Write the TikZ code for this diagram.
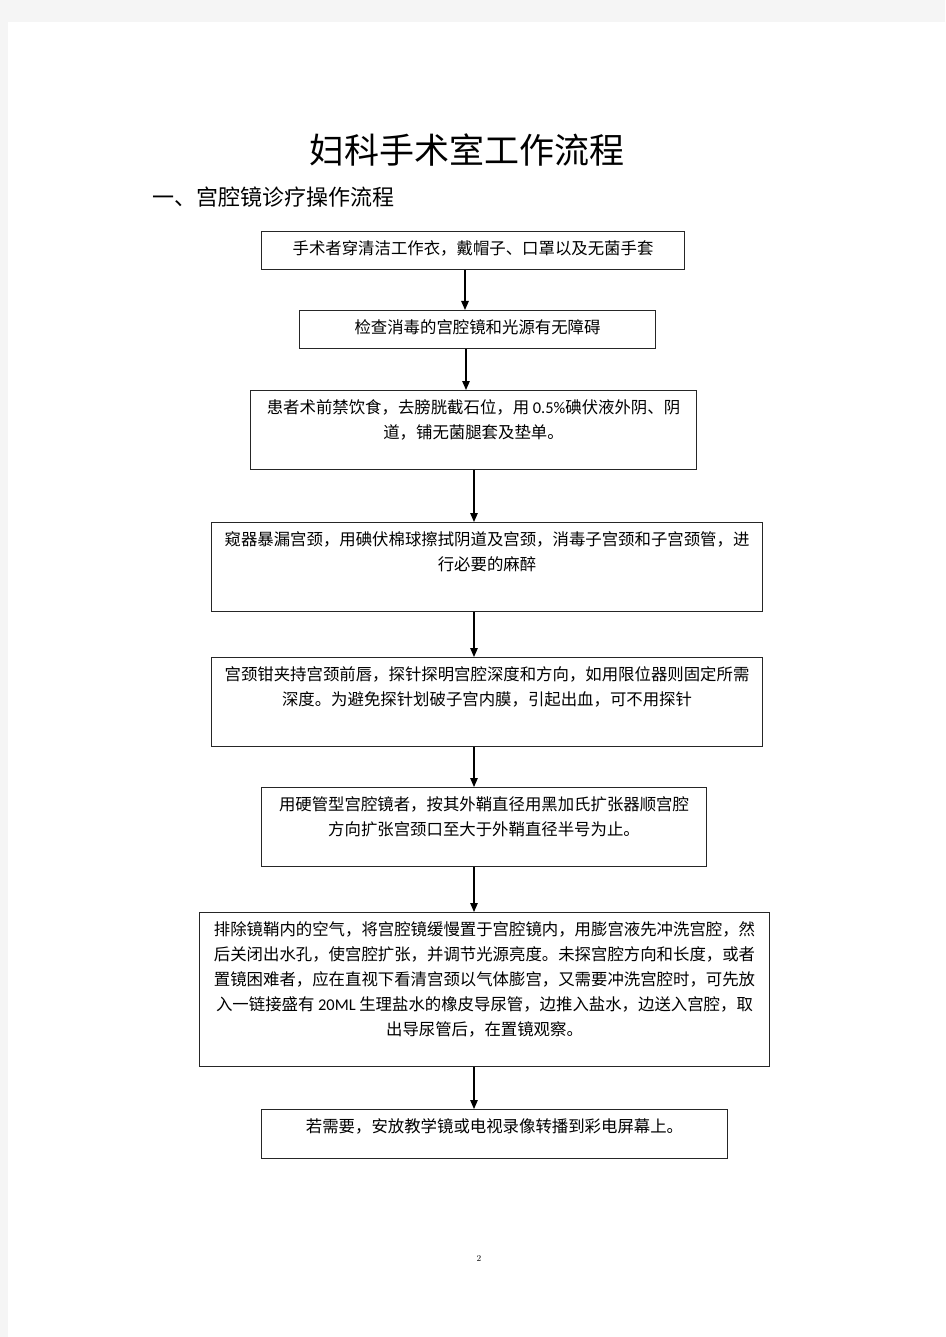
\documentclass[tikz,border=0pt]{standalone}
\usepackage{fontspec}
\usetikzlibrary{positioning,arrows.meta}
\newfontfamily\cjk{Noto Sans CJK SC}
\newfontfamily\lat{Carlito}

\tikzset{
  box/.style={draw=black!85,line width=1pt,anchor=north west,inner sep=0pt},
  txt/.style={font=\cjk\fontsize{16.4}{25}\selectfont,align=center,inner sep=0pt},
  flow/.style={-{Triangle[length=9pt,width=7.5pt]},line width=1.2pt},
}

\begin{document}
\begin{tikzpicture}[x=1pt,y=-1pt] %flow chart with 8 steps
  \fill[black!4] (0,0) rectangle (945,1337);
  \fill[white] (8,22) rectangle (945,1337);
  \useasboundingbox (0,0) rectangle (945,1337);
  \node[font=\cjk\fontsize{35}{40}\selectfont] (title) at (467,150) {妇科手术室工作流程};
  \node[font=\cjk\fontsize{22}{26}\selectfont,anchor=west,inner sep=0pt] (sub) at (152,197) {一、宫腔镜诊疗操作流程};
  % boxes
  \node[box,minimum width=423pt,minimum height=38pt] (b1) at (261,231) {};
  \node[box,minimum width=356pt,minimum height=38pt] (b2) at (299,310) {};
  \node[box,minimum width=446pt,minimum height=79pt] (b3) at (250,390) {};
  \node[box,minimum width=551pt,minimum height=89pt] (b4) at (211,522) {};
  \node[box,minimum width=551pt,minimum height=89pt] (b5) at (211,657) {};
  \node[box,minimum width=445pt,minimum height=79pt] (b6) at (261,787) {};
  \node[box,minimum width=570pt,minimum height=154pt] (b7) at (199,912) {};
  \node[box,minimum width=466pt,minimum height=49pt] (b8) at (261,1109) {};
  % texts
  \node[txt,below=9pt of b1.north] (t1) {手术者穿清洁工作衣，戴帽子、口罩以及无菌手套};
  \node[txt,below=9pt of b2.north] (t2) {检查消毒的宫腔镜和光源有无障碍};
  \node[txt,below=9pt of b3.north] (t3) {患者术前禁饮食，去膀胱截石位，用 {\lat 0.5\%}碘伏液外阴、阴\\道，铺无菌腿套及垫单。};
  \node[txt,below=9pt of b4.north] (t4) {窥器暴漏宫颈，用碘伏棉球擦拭阴道及宫颈，消毒子宫颈和子宫颈管，进\\行必要的麻醉};
  \node[txt,below=9pt of b5.north] (t5) {宫颈钳夹持宫颈前唇，探针探明宫腔深度和方向，如用限位器则固定所需\\深度。为避免探针划破子宫内膜，引起出血，可不用探针};
  \node[txt,below=9pt of b6.north] (t6) {用硬管型宫腔镜者，按其外鞘直径用黑加氏扩张器顺宫腔\\方向扩张宫颈口至大于外鞘直径半号为止。};
  \node[txt,below=9pt of b7.north] (t7) {排除镜鞘内的空气，将宫腔镜缓慢置于宫腔镜内，用膨宫液先冲洗宫腔，然\\后关闭出水孔，使宫腔扩张，并调节光源亮度。未探宫腔方向和长度，或者\\置镜困难者，应在直视下看清宫颈以气体膨宫，又需要冲洗宫腔时，可先放\\入一链接盛有 {\lat 20ML} 生理盐水的橡皮导尿管，边推入盐水，边送入宫腔，取\\出导尿管后，在置镜观察。};
  \node[txt,below=9pt of b8.north] (t8) {若需要，安放教学镜或电视录像转播到彩电屏幕上。};
  % arrows
  \coordinate (c1) at (465,0);
  \coordinate (c2) at (466,0);
  \coordinate (c3) at (474,0);
  \draw[flow] (b1.south -| c1) -- (b2.north -| c1);
  \draw[flow] (b2.south -| c2) -- (b3.north -| c2);
  \draw[flow] (b3.south -| c3) -- (b4.north -| c3);
  \draw[flow] (b4.south -| c3) -- (b5.north -| c3);
  \draw[flow] (b5.south -| c3) -- (b6.north -| c3);
  \draw[flow] (b6.south -| c3) -- (b7.north -| c3);
  \draw[flow] (b7.south -| c3) -- (b8.north -| c3);
  \node[font=\fontsize{9}{9}\selectfont] (page) at (479,1258) {2};
\end{tikzpicture}
\end{document}
